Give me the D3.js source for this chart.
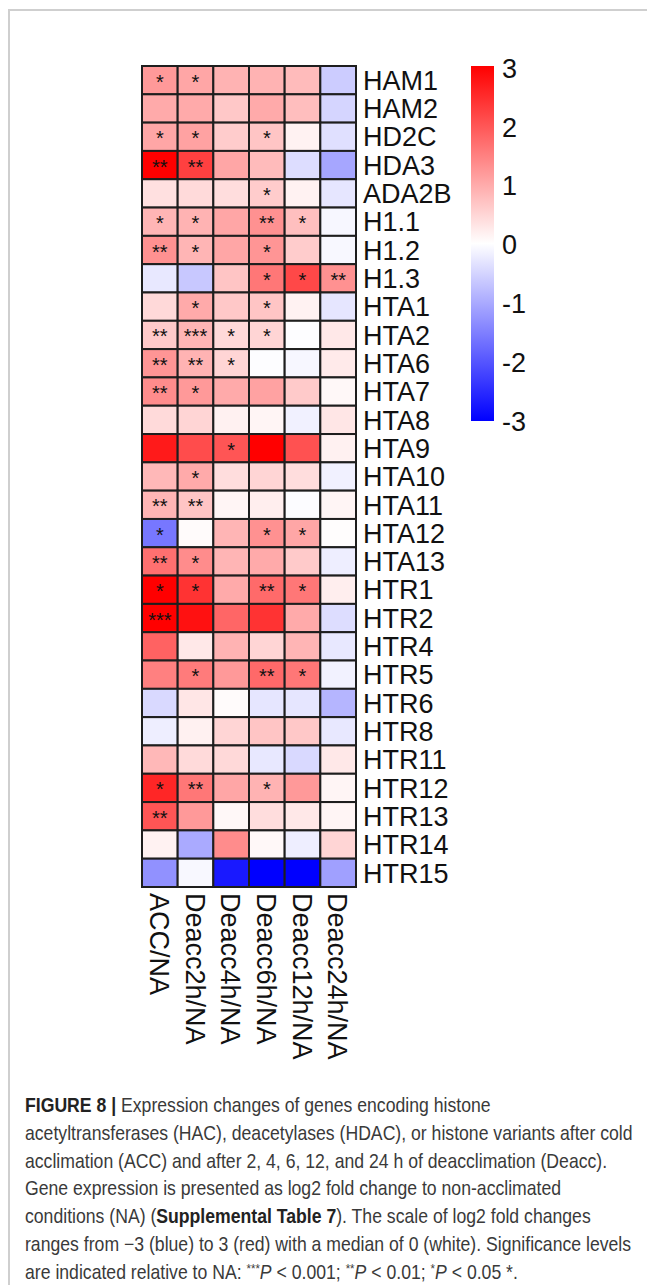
<!DOCTYPE html>
<html>
<head>
    <title>Figure 8 heatmap</title>
    <script src="https://d3js.org/d3.v7.min.js"></script>
    <style>
        body { margin: 0; background-color: #FFFFFF; }
        svg text { font-family: "Liberation Sans", Arial, sans-serif; }
    </style>
</head>
<body>
    <div id="chart"></div>

    <script>
        // Genes (rows) and contrasts (columns)
        var genes = ["HAM1", "HAM2", "HD2C", "HDA3", "ADA2B", "H1.1", "H1.2", "H1.3",
            "HTA1", "HTA2", "HTA6", "HTA7", "HTA8", "HTA9", "HTA10", "HTA11", "HTA12",
            "HTA13", "HTR1", "HTR2", "HTR4", "HTR5", "HTR6", "HTR8", "HTR11", "HTR12",
            "HTR13", "HTR14", "HTR15"];
        var conditions = ["ACC/NA", "Deacc2h/NA", "Deacc4h/NA", "Deacc6h/NA", "Deacc12h/NA", "Deacc24h/NA"];

        // log2 fold changes
        var logFC = [
            [1.2, 1.05, 0.9, 0.9, 0.8, -0.6],
            [1.0, 1.0, 0.65, 1.0, 0.77, -0.5],
            [1.05, 1.1, 0.6, 0.68, 0.15, -0.37],
            [3.0, 2.25, 1.05, 0.8, -0.4, -1.05],
            [0.37, 0.43, 0.4, 0.6, 0.15, -0.3],
            [0.87, 0.9, 1.05, 1.3, 0.75, -0.1],
            [1.3, 0.87, 1.05, 1.25, 0.6, -0.08],
            [-0.27, -0.65, 0.68, 1.6, 2.15, 1.3],
            [0.45, 1.0, 0.65, 0.68, 0.15, -0.3],
            [0.62, 0.87, 0.45, 0.5, -0.02, 0.27],
            [1.25, 0.9, 0.5, -0.02, -0.1, 0.25],
            [1.35, 1.2, 1.0, 1.1, 0.62, 0.08],
            [0.43, 0.5, 0.17, 0.12, -0.17, 0.3],
            [2.7, 2.1, 2.0, 3.0, 2.05, 0.17],
            [0.83, 1.0, 0.4, 0.5, 0.4, -0.17],
            [0.87, 0.68, 0.12, 0.2, -0.04, 0.12],
            [-1.6, 0.05, 0.87, 1.3, 1.05, 0.02],
            [1.68, 1.35, 0.87, 1.0, 0.62, -0.2],
            [3.0, 2.4, 1.0, 1.75, 1.6, 0.2],
            [3.0, 2.8, 1.8, 2.4, 1.0, -0.4],
            [1.85, 0.27, 0.9, 0.5, 0.87, -0.27],
            [1.5, 1.55, 1.2, 1.77, 1.6, -0.15],
            [-0.45, 0.3, 0.05, -0.3, -0.3, -0.87],
            [-0.2, 0.17, 0.5, 0.68, 0.65, -0.27],
            [0.83, 0.43, 0.45, -0.27, -0.45, 0.27],
            [2.55, 1.6, 1.05, 0.9, 1.2, 0.12],
            [2.0, 1.2, 0.08, 0.4, 0.27, 0.12],
            [0.15, -1.0, 1.35, 0.08, -0.2, 0.5],
            [-1.3, -0.08, -2.7, -3.0, -3.0, -1.12]
        ];

        // significance marks
        var signif = [
            ["*", "*", "", "", "", ""],
            ["", "", "", "", "", ""],
            ["*", "*", "", "*", "", ""],
            ["**", "**", "", "", "", ""],
            ["", "", "", "*", "", ""],
            ["*", "*", "", "**", "*", ""],
            ["**", "*", "", "*", "", ""],
            ["", "", "", "*", "*", "**"],
            ["", "*", "", "*", "", ""],
            ["**", "***", "*", "*", "", ""],
            ["**", "**", "*", "", "", ""],
            ["**", "*", "", "", "", ""],
            ["", "", "", "", "", ""],
            ["", "", "*", "", "", ""],
            ["", "*", "", "", "", ""],
            ["**", "**", "", "", "", ""],
            ["*", "", "", "*", "*", ""],
            ["**", "*", "", "", "", ""],
            ["*", "*", "", "**", "*", ""],
            ["***", "", "", "", "", ""],
            ["", "", "", "", "", ""],
            ["", "*", "", "**", "*", ""],
            ["", "", "", "", "", ""],
            ["", "", "", "", "", ""],
            ["", "", "", "", "", ""],
            ["*", "**", "", "*", "", ""],
            ["**", "", "", "", "", ""],
            ["", "", "", "", "", ""],
            ["", "", "", "", "", ""]
        ];

        var legendTicks = [3, 2, 1, 0, -1, -2, -3];

        var width = 647, height = 1285;

        var svg = d3.select("#chart")
            .append("svg")
            .attr("width", width)
            .attr("height", height);

        // Page frame
        svg.append("path")
            .attr("d", "M9,1285 V10 H647")
            .attr("fill", "none")
            .attr("stroke", "#cfcfcf")
            .attr("stroke-width", 2);

        // Scales
        var x = d3.scaleBand().domain(conditions).range([142, 356]);
        var y = d3.scaleBand().domain(genes).range([66, 887]);
        var color = d3.scaleLinear()
            .domain([-3, 0, 3])
            .range(["#0000ff", "#ffffff", "#ff0000"])
            .clamp(true);

        // flatten rows into cells
        var cells = [];
        genes.forEach(function(g, i) {
            conditions.forEach(function(c, j) {
                cells.push({ gene: g, cond: c, value: logFC[i][j], mark: signif[i][j] });
            });
        });

        svg.append("g")
            .selectAll("rect")
            .data(cells)
            .join("rect")
            .attr("x", function(d) { return x(d.cond); })
            .attr("y", function(d) { return y(d.gene); })
            .attr("width", x.bandwidth())
            .attr("height", y.bandwidth())
            .attr("fill", function(d) { return color(d.value); })
            .attr("stroke", "#1e1e1e")
            .attr("stroke-width", 2);

        // Stars
        svg.append("g")
            .selectAll("text")
            .data(cells.filter(function(d) { return d.mark !== ""; }))
            .join("text")
            .attr("x", function(d) { return x(d.cond) + x.bandwidth() / 2; })
            .attr("y", function(d) { return y(d.gene) + y.bandwidth() / 2 + 8.5; })
            .attr("text-anchor", "middle")
            .style("font-size", "20px")
            .attr("fill", "#111")
            .text(function(d) { return d.mark; });

        // Row labels
        svg.append("g")
            .selectAll("text")
            .data(genes)
            .join("text")
            .attr("x", 363)
            .attr("y", function(d) { return y(d) + y.bandwidth() / 2; })
            .attr("dy", "0.36em")
            .style("font-size", "27px")
            .attr("fill", "#111")
            .text(function(d) { return d; });

        // Column labels, rotated
        svg.append("g")
            .selectAll("text")
            .data(conditions)
            .join("text")
            .attr("transform", function(d) {
                return "translate(" + (x(d) + x.bandwidth() / 2) + ",893) rotate(90)";
            })
            .attr("dy", "0.36em")
            .style("font-size", "27px")
            .attr("fill", "#111")
            .text(function(d) { return d; });

        // Legend
        var grad = svg.append("defs")
            .append("linearGradient")
            .attr("id", "legend-gradient")
            .attr("x1", 0).attr("y1", 0)
            .attr("x2", 0).attr("y2", 1);

        d3.range(0, 1.0001, 0.1).forEach(function(t) {
            grad.append("stop")
                .attr("offset", (t * 100) + "%")
                .attr("stop-color", color(3 - 6 * t));
        });

        var yLeg = d3.scaleLinear().domain([3, -3]).range([68, 421]);

        svg.append("rect")
            .attr("x", 471)
            .attr("y", 66)
            .attr("width", 23)
            .attr("height", 355)
            .attr("fill", "url(#legend-gradient)");

        svg.append("g")
            .selectAll("text")
            .data(legendTicks)
            .join("text")
            .attr("x", 502)
            .attr("y", function(d) { return yLeg(d); })
            .attr("dy", "0.36em")
            .style("font-size", "27px")
            .attr("fill", "#111")
            .text(function(d) { return d; });

        // Caption
        var cap = svg.append("g")
            .style("font-size", "20px")
            .attr("fill", "#3a3a3a");

        var lines = [
            [["FIGURE 8 | ", "b"], ["Expression changes of genes encoding histone", ""]],
            [["acetyltransferases (HAC), deacetylases (HDAC), or histone variants after cold", ""]],
            [["acclimation (ACC) and after 2, 4, 6, 12, and 24 h of deacclimation (Deacc).", ""]],
            [["Gene expression is presented as log2 fold change to non-acclimated", ""]],
            [["conditions (NA) (", ""], ["Supplemental Table 7", "b"], ["). The scale of log2 fold changes", ""]],
            [["ranges from \u22123 (blue) to 3 (red) with a median of 0 (white). Significance levels", ""]],
            [["are indicated relative to NA: ", ""], ["***", "s"], ["P", "i"], [" < 0.001; ", ""],
             ["**", "s"], ["P", "i"], [" < 0.01; ", ""], ["*", "s"], ["P", "i"], [" < 0.05 *.", ""]]
        ];

        var capTexts = lines.map(function(parts, i) {
            var t = cap.append("text")
                .attr("x", 0)
                .attr("y", 0);
            parts.forEach(function(p, j) {
                var ts = t.append("tspan").text(p[0]);
                if (p[1] === "b") ts.style("font-weight", "bold").attr("fill", "#222");
                if (p[1] === "i") ts.style("font-style", "italic");
                if (p[1] === "s") ts.style("font-size", "13px").attr("dy", "-6");
                if (j > 0 && parts[j - 1][1] === "s") ts.attr("dy", "6");
            });
            return t;
        });

        // narrow the caption so the longest line fits the column
        var k = 608 / capTexts[1].node().getComputedTextLength();
        capTexts.forEach(function(t, i) {
            t.attr("transform", "translate(25," + (1112 + i * 27.8) + ") scale(" + k + ",1)");
        });
    </script>
</body>
</html>
